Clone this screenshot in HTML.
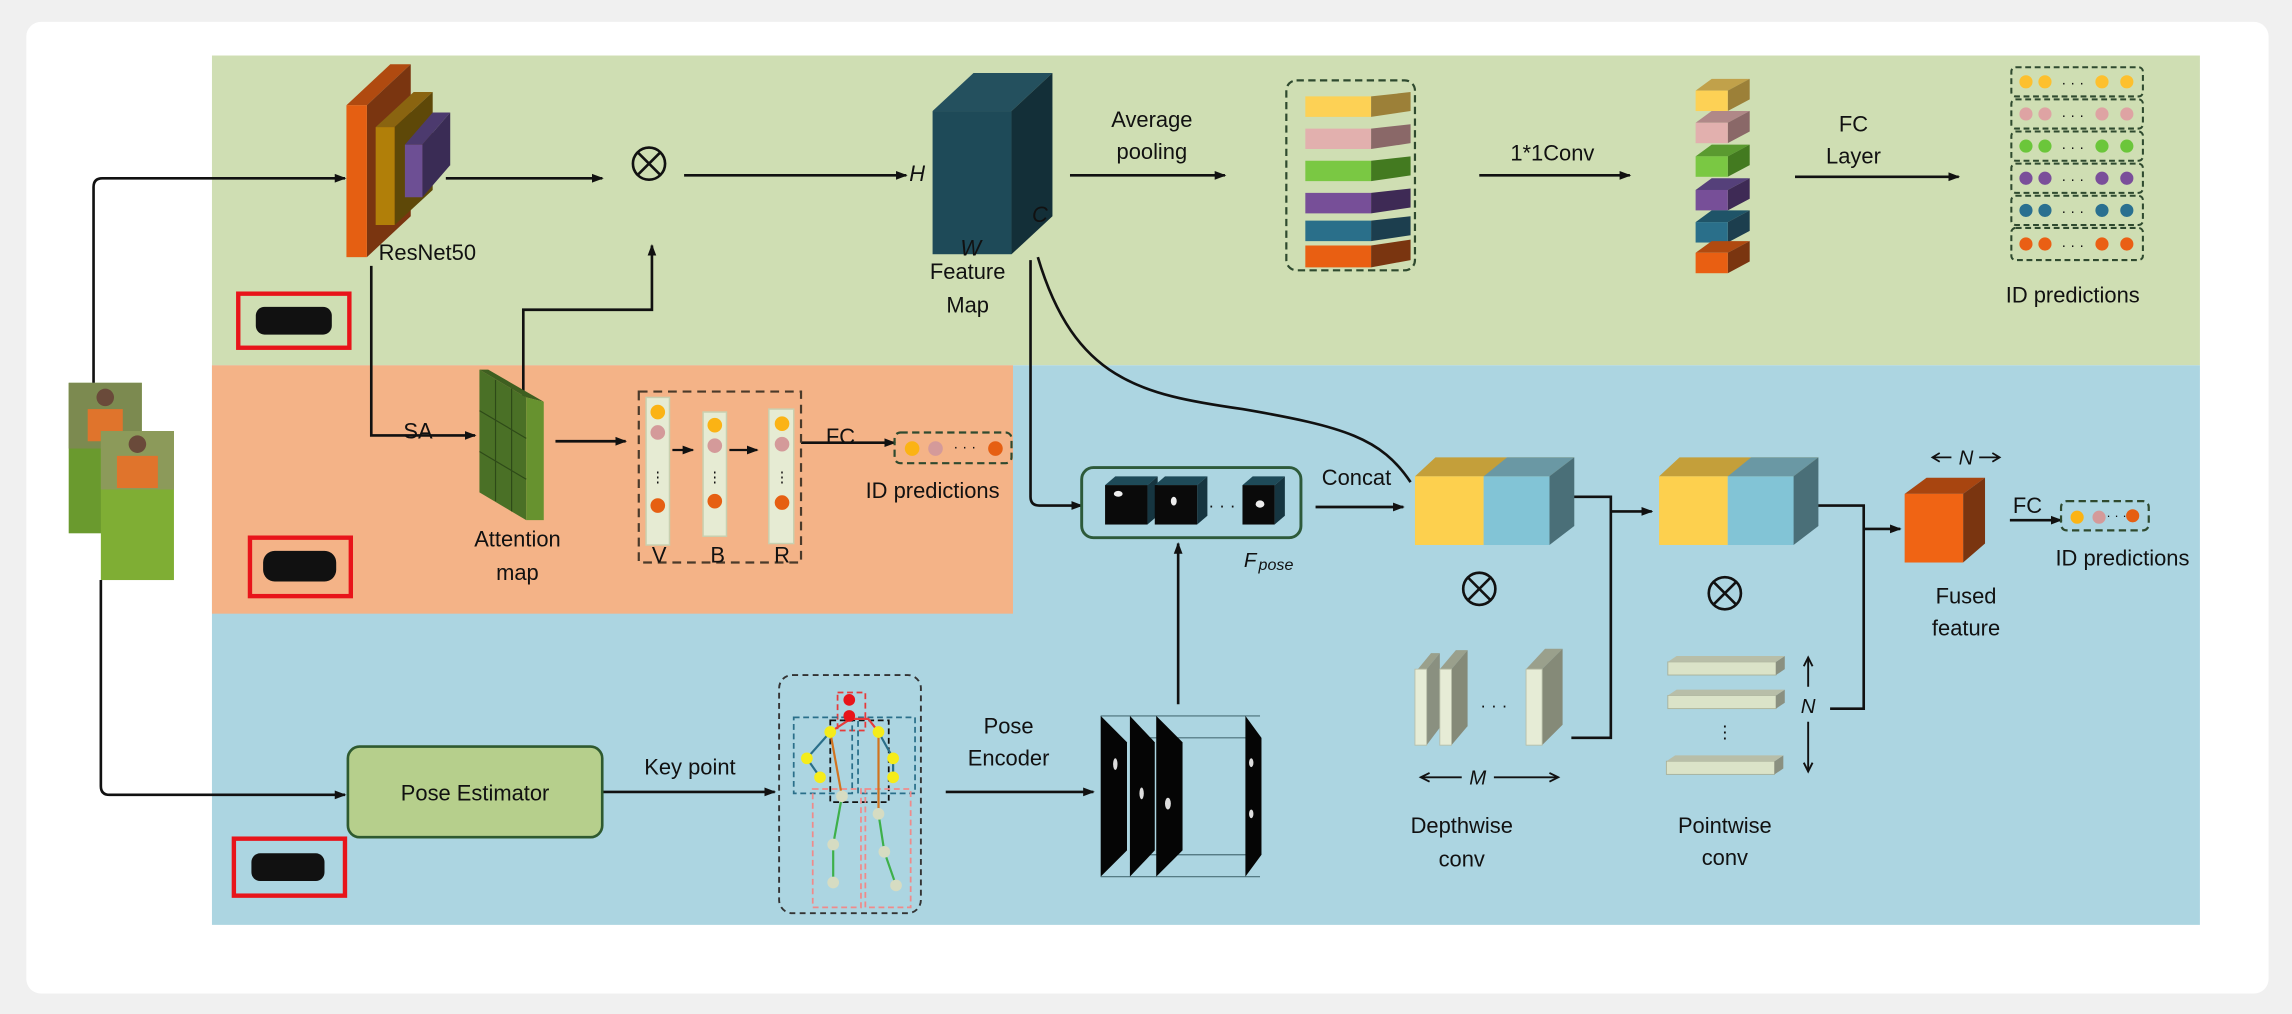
<!DOCTYPE html>
<html><head><meta charset="utf-8">
<style>
html,body{margin:0;padding:0;background:#f2f2f2;}
svg{display:block;}
text{font-family:"Liberation Sans",Arial,sans-serif;fill:#111;}
</style></head><body>
<svg width="2292" height="1014" viewBox="0 0 1568 694" preserveAspectRatio="none" xmlns="http://www.w3.org/2000/svg">
<defs>
<marker id="a" markerWidth="8" markerHeight="8" refX="7" refY="4" orient="auto" markerUnits="userSpaceOnUse"><path d="M0,1 L8,4 L0,7 z" fill="#111"/></marker>
</defs>
<rect x="0" y="0" width="1568" height="694" fill="#f0f0f0"/>
<rect x="18" y="15" width="1534" height="665" rx="10" fill="#fff"/>
<!-- bands -->
<rect x="145" y="38" width="1360" height="212" fill="#cfdeb3"/>
<rect x="145" y="250" width="1360" height="383" fill="#acd5e1"/>
<rect x="145" y="250" width="548" height="170" fill="#f4b387"/>

<!-- person images -->
<rect x="47" y="262" width="50" height="103" fill="#6a9a2e"/>
<rect x="47" y="262" width="50" height="45" fill="#7c8a50"/>
<rect x="60" y="280" width="24" height="22" fill="#e0742c"/>
<rect x="69" y="295" width="50" height="102" fill="#7fae34"/>
<rect x="69" y="295" width="50" height="40" fill="#8c9a5a"/>
<rect x="80" y="312" width="28" height="22" fill="#e0742c"/>
<circle cx="94" cy="304" r="6" fill="#6a4a3a"/>
<circle cx="72" cy="272" r="6" fill="#6a4a3a"/>

<g stroke="#111" stroke-width="1.8" fill="none">
<path d="M64,262 V128 Q64,122 70,122 H236" marker-end="url(#a)"/>
<path d="M69,397 V538 Q69,544 75,544 H236" marker-end="url(#a)"/>
<path d="M305,122 H412" marker-end="url(#a)"/>
<path d="M468,120 H620" marker-end="url(#a)"/>
<path d="M732,120 H838" marker-end="url(#a)"/>
<path d="M1012,120 H1115" marker-end="url(#a)"/>
<path d="M1228,121 H1340" marker-end="url(#a)"/>
<path d="M254,182 V298 H325" marker-end="url(#a)"/>
<path d="M358,300 V212 H446 V168" marker-end="url(#a)"/>
<path d="M380,302 H428" marker-end="url(#a)"/>
<path d="M548,303 H612" marker-end="url(#a)"/>
<path d="M705,178 V340 Q705,346 711,346 H740" marker-end="url(#a)"/>
<path d="M710,176 C735,260 780,270 850,280 C920,292 945,300 965,330"/>
<path d="M900,347 H960" marker-end="url(#a)"/>
<path d="M1076,340 H1102 V505 H1075"/>
<path d="M1102,350 H1130" marker-end="url(#a)"/>
<path d="M1243,346 H1275 V485 H1252"/>
<path d="M1275,362 H1300" marker-end="url(#a)"/>
<path d="M1375,356 H1410" marker-end="url(#a)"/>
<path d="M412,542 H530" marker-end="url(#a)"/>
<path d="M647,542 H748" marker-end="url(#a)"/>
<path d="M806,482 V372" marker-end="url(#a)"/>
</g>

<!-- ResNet -->
<polygon points="237,72 267,44 281,44 251,72" fill="#b04a10"/>
<polygon points="251,72 281,44 281,148 251,176" fill="#7a3510"/>
<rect x="237" y="72" width="14" height="104" fill="#e55f12"/>
<polygon points="257,87 283,63 296,63 270,87" fill="#8a6410"/>
<polygon points="270,87 296,63 296,130 270,154" fill="#5e4808"/>
<rect x="257" y="87" width="13" height="67" fill="#b17f09"/>
<polygon points="277,99 296,77 308,77 289,99" fill="#4c3a6e"/>
<polygon points="289,99 308,77 308,113 289,135" fill="#3a2c55"/>
<rect x="277" y="99" width="12" height="36" fill="#6d4f94"/>
<text x="259" y="178" font-size="15">ResNet50</text>

<!-- otimes -->
<g stroke="#111" stroke-width="1.8" fill="none">
<circle cx="444" cy="112" r="11"/><path d="M436,104 L452,120 M452,104 L436,120"/>
<circle cx="1012" cy="403" r="11"/><path d="M1004,395 L1020,411 M1020,395 L1004,411"/>
<circle cx="1180" cy="406" r="11"/><path d="M1172,398 L1188,414 M1188,398 L1172,414"/>
</g>

<!-- Feature map cube -->
<polygon points="638,76 666,50 720,50 692,76" fill="#24505e"/>
<polygon points="692,76 720,50 720,148 692,174" fill="#132f38"/>
<rect x="638" y="76" width="54" height="98" fill="#1e4a58"/>
<text x="622" y="124" font-size="15" font-style="italic">H</text>
<text x="706" y="152" font-size="15" font-style="italic">C</text>
<text x="657" y="175" font-size="15" font-style="italic">W</text>
<text x="662" y="191" font-size="15" text-anchor="middle">Feature</text>
<text x="662" y="214" font-size="15" text-anchor="middle">Map</text>
<text x="788" y="87" font-size="15" text-anchor="middle">Average</text>
<text x="788" y="109" font-size="15" text-anchor="middle">pooling</text>

<!-- pooled bars -->
<rect x="880" y="55" width="88" height="130" rx="7" fill="none" stroke="#2f4a2f" stroke-width="1.5" stroke-dasharray="5,3"/>
<g>
<polygon points="893,66 938,66 938,80 893,80" fill="#fdd155"/><polygon points="938,66 965,63 965,76 938,80" fill="#9c8038"/>
<polygon points="893,88 938,88 938,102 893,102" fill="#e2b0ae"/><polygon points="938,88 965,85 965,98 938,102" fill="#8a6868"/>
<polygon points="893,110 938,110 938,124 893,124" fill="#7ac843"/><polygon points="938,110 965,107 965,120 938,124" fill="#437a20"/>
<polygon points="893,132 938,132 938,146 893,146" fill="#774f98"/><polygon points="938,132 965,129 965,142 938,146" fill="#3e2a55"/>
<polygon points="893,151 938,151 938,165 893,165" fill="#2a6f8a"/><polygon points="938,151 965,148 965,161 938,165" fill="#1c3e4e"/>
<polygon points="893,168 938,168 938,183 893,183" fill="#e95f12"/><polygon points="938,168 965,164 965,178 938,183" fill="#7a3510"/>
</g>
<text x="1062" y="110" font-size="15" text-anchor="middle">1*1Conv</text>

<!-- small cubes -->
<g>
<polygon points="1160,62 1171,54 1197,54 1182,62" fill="#c1a14a"/><polygon points="1182,62 1197,54 1197,68 1182,76" fill="#9c8038"/><rect x="1160" y="62" width="22" height="14" fill="#fdd155"/>
<polygon points="1160,84 1171,76 1197,76 1182,84" fill="#b08888"/><polygon points="1182,84 1197,76 1197,90 1182,98" fill="#8a6868"/><rect x="1160" y="84" width="22" height="14" fill="#e2b0ae"/>
<polygon points="1160,107 1171,99 1197,99 1182,107" fill="#5a9a30"/><polygon points="1182,107 1197,99 1197,113 1182,121" fill="#437a20"/><rect x="1160" y="107" width="22" height="14" fill="#7ac843"/>
<polygon points="1160,130 1171,122 1197,122 1182,130" fill="#55407a"/><polygon points="1182,130 1197,122 1197,136 1182,144" fill="#3e2a55"/><rect x="1160" y="130" width="22" height="14" fill="#774f98"/>
<polygon points="1160,152 1171,144 1197,144 1182,152" fill="#1f5468"/><polygon points="1182,152 1197,144 1197,158 1182,166" fill="#1c3e4e"/><rect x="1160" y="152" width="22" height="14" fill="#2a6f8a"/>
<polygon points="1160,173 1171,165 1197,165 1182,173" fill="#b04a10"/><polygon points="1182,173 1197,165 1197,179 1182,187" fill="#7a3510"/><rect x="1160" y="173" width="22" height="14" fill="#e95f12"/>
</g>
<text x="1268" y="90" font-size="15" text-anchor="middle">FC</text>
<text x="1268" y="112" font-size="15" text-anchor="middle">Layer</text>

<!-- ID prediction grid -->
<g fill="none" stroke="#2f4a2f" stroke-width="1.4" stroke-dasharray="4,2.5">
<rect x="1376" y="46" width="90" height="20" rx="3"/><rect x="1376" y="68" width="90" height="20" rx="3"/><rect x="1376" y="90" width="90" height="20" rx="3"/><rect x="1376" y="112" width="90" height="20" rx="3"/><rect x="1376" y="134" width="90" height="20" rx="3"/><rect x="1376" y="156" width="90" height="22" rx="3"/>
</g>
<g>
<g fill="#fdc02e"><circle cx="1386" cy="56" r="4.5"/><circle cx="1399" cy="56" r="4.5"/><circle cx="1438" cy="56" r="4.5"/><circle cx="1455" cy="56" r="4.5"/></g>
<g fill="#dea3a3"><circle cx="1386" cy="78" r="4.5"/><circle cx="1399" cy="78" r="4.5"/><circle cx="1438" cy="78" r="4.5"/><circle cx="1455" cy="78" r="4.5"/></g>
<g fill="#6bc63a"><circle cx="1386" cy="100" r="4.5"/><circle cx="1399" cy="100" r="4.5"/><circle cx="1438" cy="100" r="4.5"/><circle cx="1455" cy="100" r="4.5"/></g>
<g fill="#7a4e9a"><circle cx="1386" cy="122" r="4.5"/><circle cx="1399" cy="122" r="4.5"/><circle cx="1438" cy="122" r="4.5"/><circle cx="1455" cy="122" r="4.5"/></g>
<g fill="#2a7090"><circle cx="1386" cy="144" r="4.5"/><circle cx="1399" cy="144" r="4.5"/><circle cx="1438" cy="144" r="4.5"/><circle cx="1455" cy="144" r="4.5"/></g>
<g fill="#ea5f14"><circle cx="1386" cy="167" r="4.5"/><circle cx="1399" cy="167" r="4.5"/><circle cx="1438" cy="167" r="4.5"/><circle cx="1455" cy="167" r="4.5"/></g>
<g fill="#222"><text x="1418" y="60" font-size="10" text-anchor="middle">· · ·</text><text x="1418" y="82" font-size="10" text-anchor="middle">· · ·</text><text x="1418" y="104" font-size="10" text-anchor="middle">· · ·</text><text x="1418" y="126" font-size="10" text-anchor="middle">· · ·</text><text x="1418" y="148" font-size="10" text-anchor="middle">· · ·</text><text x="1418" y="171" font-size="10" text-anchor="middle">· · ·</text></g>
</g>
<text x="1418" y="207" font-size="15" text-anchor="middle">ID predictions</text>

<!-- red boxes -->
<g fill="none" stroke="#e8141a" stroke-width="3">
<rect x="163" y="201" width="76" height="37"/><rect x="171" y="368" width="69" height="40"/><rect x="160" y="574" width="76" height="39"/>
</g>
<rect x="175" y="210" width="52" height="19" rx="6" fill="#111"/>
<rect x="180" y="377" width="50" height="21" rx="8" fill="#111"/>
<rect x="172" y="584" width="50" height="19" rx="6" fill="#111"/>

<!-- attention map -->
<polygon points="328,253 360,272 360,356 328,337" fill="#4a7026"/>
<polygon points="328,253 334,253 372,275 360,272" fill="#3e5f20"/>
<polygon points="360,272 372,275 372,356 360,356" fill="#67922f"/>
<g stroke="#2e4a18" stroke-width="0.8"><path d="M339,260 V343 M350,266 V350 M328,281 L360,300 M328,309 L360,328"/></g>
<text x="286" y="300" font-size="15" text-anchor="middle">SA</text>
<text x="354" y="374" font-size="15" text-anchor="middle">Attention</text>
<text x="354" y="397" font-size="15" text-anchor="middle">map</text>

<!-- VBR -->
<rect x="437" y="268" width="111" height="117" fill="none" stroke="#4a3a2a" stroke-width="1.5" stroke-dasharray="6,4"/>
<rect x="442" y="272" width="16" height="101" fill="#e6ebd3" stroke="#c8d0b0"/>
<rect x="481" y="282" width="16" height="85" fill="#e6ebd3" stroke="#c8d0b0"/>
<rect x="526" y="280" width="17" height="92" fill="#e6ebd3" stroke="#c8d0b0"/>
<g fill="#fbb314"><circle cx="450" cy="282" r="5"/><circle cx="489" cy="291" r="5"/><circle cx="535" cy="290" r="5"/></g>
<g fill="#d49a9a"><circle cx="450" cy="296" r="5"/><circle cx="489" cy="305" r="5"/><circle cx="535" cy="304" r="5"/></g>
<g fill="#e65f12"><circle cx="450" cy="346" r="5"/><circle cx="489" cy="343" r="5"/><circle cx="535" cy="344" r="5"/></g>
<g stroke="#111" stroke-width="1.5"><path d="M460,308 H474" marker-end="url(#a)"/><path d="M499,308 H518" marker-end="url(#a)"/></g>
<text x="450" y="330" font-size="10" text-anchor="middle">⋮</text><text x="489" y="330" font-size="10" text-anchor="middle">⋮</text><text x="535" y="330" font-size="10" text-anchor="middle">⋮</text>
<text x="451" y="385" font-size="15" text-anchor="middle">V</text>
<text x="491" y="385" font-size="15" text-anchor="middle">B</text>
<text x="535" y="385" font-size="15" text-anchor="middle">R</text>
<text x="575" y="304" font-size="15" text-anchor="middle">FC</text>
<rect x="612" y="296" width="80" height="21" rx="4" fill="none" stroke="#2f4a2f" stroke-width="1.5" stroke-dasharray="5,3"/>
<circle cx="624" cy="307" r="5" fill="#fbb314"/><circle cx="640" cy="307" r="5" fill="#d49a9a"/><circle cx="681" cy="307" r="5" fill="#e65f12"/>
<text x="660" y="309" font-size="10" text-anchor="middle">· · ·</text>
<text x="638" y="341" font-size="15" text-anchor="middle">ID predictions</text>

<!-- Fpose -->
<rect x="740" y="320" width="150" height="48" rx="8" fill="none" stroke="#2d5a3a" stroke-width="2"/>
<g>
<polygon points="756,332 763,326 792,326 785,332" fill="#1e4a58"/><polygon points="785,332 792,326 792,353 785,359" fill="#163540"/><rect x="756" y="332" width="29" height="27" fill="#0a0a0a"/><ellipse cx="765" cy="338" rx="3" ry="2" fill="#eee"/>
<polygon points="790,332 797,326 826,326 819,332" fill="#1e4a58"/><polygon points="819,332 826,326 826,353 819,359" fill="#163540"/><rect x="790" y="332" width="29" height="27" fill="#0a0a0a"/><ellipse cx="803" cy="343" rx="2" ry="3" fill="#eee"/>
<polygon points="850,332 857,326 879,326 872,332" fill="#1e4a58"/><polygon points="872,332 879,326 879,353 872,359" fill="#163540"/><rect x="850" y="332" width="22" height="27" fill="#0a0a0a"/><ellipse cx="862" cy="345" rx="3" ry="2.5" fill="#eee"/>
</g>
<text x="836" y="350" font-size="12" text-anchor="middle">· · ·</text>
<text x="851" y="388" font-size="14" font-style="italic">F</text><text x="861" y="390" font-size="11" font-style="italic">pose</text>
<text x="928" y="332" font-size="15" text-anchor="middle">Concat</text>

<!-- concat block 1 -->
<polygon points="968,326 982,313 1077,313 1060,326" fill="#c49f3a"/>
<polygon points="1015,326 1031,313 1077,313 1060,326" fill="#6a98a4"/>
<polygon points="1060,326 1077,313 1077,360 1060,373" fill="#4a6f78"/>
<rect x="968" y="326" width="47" height="47" fill="#fdd04e"/>
<rect x="1015" y="326" width="45" height="47" fill="#82c4d6"/>
<!-- block 2 -->
<polygon points="1135,326 1149,313 1244,313 1227,326" fill="#c49f3a"/>
<polygon points="1182,326 1198,313 1244,313 1227,326" fill="#6a98a4"/>
<polygon points="1227,326 1244,313 1244,360 1227,373" fill="#4a6f78"/>
<rect x="1135" y="326" width="47" height="47" fill="#fdd04e"/>
<rect x="1182" y="326" width="45" height="47" fill="#82c4d6"/>

<!-- depthwise -->
<g>
<polygon points="970,458 979,447 985,447 976,458" fill="#9aa08c"/><polygon points="976,458 985,447 985,498 976,510" fill="#8a9080"/><rect x="968" y="458" width="8" height="52" fill="#e6ecd6" stroke="#b8bea8" stroke-width="0.6"/>
<polygon points="985,458 996,445 1004,445 993,458" fill="#9aa08c"/><polygon points="993,458 1004,445 1004,497 993,510" fill="#858a78"/><rect x="985" y="458" width="8" height="52" fill="#e6ecd6" stroke="#b8bea8" stroke-width="0.6"/>
<polygon points="1044,458 1057,444 1069,444 1055,458" fill="#9aa08c"/><polygon points="1055,458 1069,444 1069,496 1055,510" fill="#858a78"/><rect x="1044" y="458" width="11" height="52" fill="#e6ecd6" stroke="#b8bea8" stroke-width="0.6"/>
</g>
<text x="1022" y="487" font-size="12" text-anchor="middle">· · ·</text>
<g stroke="#111" stroke-width="1.3"><path d="M972,532 H1000 M1022,532 H1066"/><path d="M978,529 L972,532 L978,535 M1060,529 L1066,532 L1060,535" fill="none"/></g>
<text x="1011" y="537" font-size="14" font-style="italic" text-anchor="middle">M</text>
<text x="1000" y="570" font-size="15" text-anchor="middle">Depthwise</text>
<text x="1000" y="593" font-size="15" text-anchor="middle">conv</text>

<!-- pointwise -->
<g>
<rect x="1141" y="453" width="74" height="9" fill="#dbe3c8" stroke="#a8b098" stroke-width="0.6"/><polygon points="1215,453 1221,449 1221,458 1215,462" fill="#8a9080"/><polygon points="1141,453 1147,449 1221,449 1215,453" fill="#b8bea8"/>
<rect x="1141" y="476" width="74" height="9" fill="#dbe3c8" stroke="#a8b098" stroke-width="0.6"/><polygon points="1215,476 1221,472 1221,481 1215,485" fill="#8a9080"/><polygon points="1141,476 1147,472 1221,472 1215,476" fill="#b8bea8"/>
<rect x="1140" y="521" width="74" height="9" fill="#dbe3c8" stroke="#a8b098" stroke-width="0.6"/><polygon points="1214,521 1220,517 1220,526 1214,530" fill="#8a9080"/><polygon points="1140,521 1146,517 1220,517 1214,521" fill="#b8bea8"/>
</g>
<text x="1180" y="505" font-size="12" text-anchor="middle">⋮</text>
<g stroke="#111" stroke-width="1.3"><path d="M1237,450 V470 M1237,494 V528"/><path d="M1234,456 L1237,450 L1240,456 M1234,522 L1237,528 L1240,522" fill="none"/></g>
<text x="1237" y="488" font-size="14" font-style="italic" text-anchor="middle">N</text>
<text x="1180" y="570" font-size="15" text-anchor="middle">Pointwise</text>
<text x="1180" y="592" font-size="15" text-anchor="middle">conv</text>

<!-- fused -->
<polygon points="1303,338 1318,327 1358,327 1343,338" fill="#a84510"/>
<polygon points="1343,338 1358,327 1358,372 1343,385" fill="#7a3510"/>
<rect x="1303" y="338" width="40" height="47" fill="#f06414"/>
<g stroke="#111" stroke-width="1.2"><path d="M1322,313 H1335 M1354,313 H1368"/><path d="M1327,310 L1322,313 L1327,316 M1363,310 L1368,313 L1363,316" fill="none"/></g>
<text x="1345" y="318" font-size="14" font-style="italic" text-anchor="middle">N</text>
<text x="1345" y="413" font-size="15" text-anchor="middle">Fused</text>
<text x="1345" y="435" font-size="15" text-anchor="middle">feature</text>
<text x="1387" y="351" font-size="15" text-anchor="middle">FC</text>
<rect x="1410" y="343" width="60" height="20" rx="4" fill="none" stroke="#2f4a2f" stroke-width="1.5" stroke-dasharray="5,3"/>
<circle cx="1421" cy="354" r="4.5" fill="#fbb314"/><circle cx="1436" cy="354" r="4.5" fill="#d49a9a"/><circle cx="1459" cy="353" r="4.5" fill="#e65f12"/>
<text x="1448" y="356" font-size="9" text-anchor="middle">· · ·</text>
<text x="1452" y="387" font-size="15" text-anchor="middle">ID predictions</text>

<!-- pose estimator -->
<rect x="238" y="511" width="174" height="62" rx="8" fill="#b6cf8c" stroke="#2f5a2f" stroke-width="1.8"/>
<text x="325" y="548" font-size="15" text-anchor="middle">Pose Estimator</text>
<text x="472" y="530" font-size="15" text-anchor="middle">Key point</text>

<!-- skeleton -->
<rect x="533" y="462" width="97" height="163" rx="9" fill="none" stroke="#333" stroke-width="1.3" stroke-dasharray="4,3"/>
<g fill="none" stroke-width="1.2" stroke-dasharray="4,2.5">
<rect x="573" y="474" width="19" height="26" stroke="#e63a3a"/>
<rect x="543" y="491" width="40" height="52" stroke="#2a6f8a"/><rect x="587" y="491" width="39" height="52" stroke="#2a6f8a"/>
<rect x="568" y="493" width="40" height="56" stroke="#111"/>
<rect x="556" y="540" width="33" height="81" stroke="#f08a8a"/><rect x="592" y="540" width="31" height="81" stroke="#f08a8a"/>
</g>
<g stroke-width="1.5" fill="none">
<path d="M568,501 L552,519 L561,532" stroke="#2a6f8a"/><path d="M601,501 L611,519 L611,532" stroke="#2a6f8a"/>
<path d="M568,501 L576,545" stroke="#d2731e"/><path d="M601,501 L601,557" stroke="#d2731e"/>
<path d="M576,545 L570,578 L570,604" stroke="#3db04a"/><path d="M601,557 L605,583 L613,606" stroke="#3db04a"/>
<path d="M568,501 L582,492 L594,492 L601,501" stroke="#e63a3a"/>
</g>
<g fill="#e8141a"><circle cx="581" cy="479" r="4"/><circle cx="581" cy="490" r="4"/></g>
<g fill="#f5ec1a"><circle cx="568" cy="501" r="4"/><circle cx="601" cy="501" r="4"/><circle cx="552" cy="519" r="4"/><circle cx="611" cy="519" r="4"/><circle cx="561" cy="532" r="4"/><circle cx="611" cy="532" r="4"/></g>
<g fill="#d6dcc2"><circle cx="576" cy="545" r="4"/><circle cx="601" cy="557" r="4"/><circle cx="570" cy="578" r="4"/><circle cx="605" cy="583" r="4"/><circle cx="570" cy="604" r="4"/><circle cx="613" cy="606" r="4"/></g>

<text x="690" y="502" font-size="15" text-anchor="middle">Pose</text>
<text x="690" y="524" font-size="15" text-anchor="middle">Encoder</text>

<!-- encoder slices -->
<g stroke="#4a6f78" stroke-width="0.8" fill="none"><path d="M753,490 H862 M753,600 H862 M775,505 H862 M775,585 H862"/></g>
<g fill="#050505">
<polygon points="753,490 771,508 771,582 753,600"/>
<polygon points="773,490 790,508 790,582 773,600"/>
<polygon points="791,490 809,508 809,582 791,600"/>
<polygon points="852,490 863,505 863,585 852,600"/>
</g>
<g fill="#ddd"><ellipse cx="763" cy="523" rx="1.5" ry="4"/><ellipse cx="781" cy="543" rx="1.5" ry="4"/><ellipse cx="799" cy="550" rx="2" ry="4"/><ellipse cx="856" cy="522" rx="1.5" ry="3"/><ellipse cx="856" cy="557" rx="1.5" ry="3"/></g>
</svg>
</body></html>
